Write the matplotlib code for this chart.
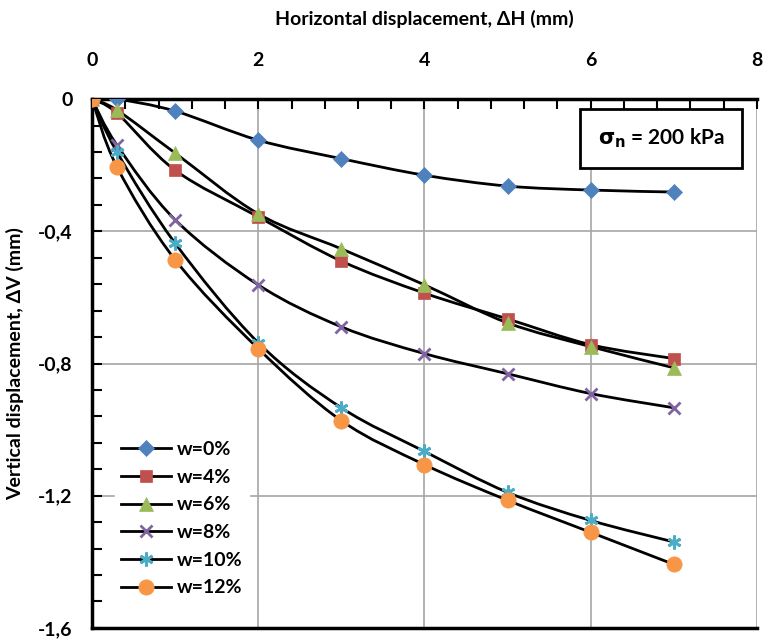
import matplotlib.pyplot as plt
import numpy as np
from matplotlib.path import Path
from matplotlib.patches import PathPatch
from matplotlib.ticker import MultipleLocator, FuncFormatter

plt.rcParams['font.family'] = ['Lato', 'DejaVu Sans']
plt.rcParams['font.weight'] = 'bold'

# horizontal displacement (mm)
dh = [0, 0.3, 1, 2, 3, 4, 5, 6, 7]

# vertical displacement (mm) per water content
dv_w0 = [0, 0.0, -0.036, -0.124, -0.18, -0.23, -0.263, -0.275, -0.281]
dv_w4 = [0, -0.042, -0.215, -0.356, -0.49, -0.587, -0.665, -0.743, -0.785]
dv_w6 = [0, -0.033, -0.163, -0.347, -0.453, -0.562, -0.677, -0.749, -0.813]
dv_w8 = [0, -0.139, -0.365, -0.562, -0.689, -0.77, -0.831, -0.891, -0.934]
dv_w10 = [0, -0.16, -0.436, -0.737, -0.934, -1.066, -1.19, -1.275, -1.34]
dv_w12 = [0, -0.205, -0.486, -0.755, -0.973, -1.106, -1.214, -1.311, -1.408]

labels = ['w=0%', 'w=4%', 'w=6%', 'w=8%', 'w=10%', 'w=12%']
series = [dv_w0, dv_w4, dv_w6, dv_w8, dv_w10, dv_w12]
colors = ['#4F81BD', '#C0504D', '#9BBB59', '#8064A2', '#4BACC6', '#F79646']
markers = ['D', 's', '^', 'x', (6, 2, 0), 'o']
sizes = [8, 9, 10, 9, 10, 11]


def smooth_path(x, y):
    # Excel-like smoothed line drawn as cubic bezier segments
    pts = np.column_stack([x, y]).astype(float)
    verts = [pts[0]]
    codes = [Path.MOVETO]
    n = len(pts)
    for i in range(n - 1):
        p0 = pts[max(i - 1, 0)]
        p1 = pts[i]
        p2 = pts[i + 1]
        p3 = pts[min(i + 2, n - 1)]
        c1 = p1 + (p2 - p0) / 6.0
        c2 = p2 - (p3 - p1) / 6.0
        verts += [c1, c2, p2]
        codes += [Path.CURVE4] * 3
    return Path(verts, codes)


fig = plt.figure(figsize=(7.63, 6.4), dpi=100)
ax = fig.add_axes([0.1206, 0.019, 0.8715, 0.826])

for vals, lab, c, m, s in zip(series, labels, colors, markers, sizes):
    ax.add_patch(PathPatch(smooth_path(dh, vals), facecolor='none',
                           edgecolor='black', lw=2, zorder=3))
    mew = 2 if m in ('x', (6, 2, 0)) else 0.5
    ax.plot(dh, vals, linestyle='none', marker=m, markersize=s,
            color=c, markeredgecolor=c, markeredgewidth=mew, zorder=4)
    ax.plot([], [], color='black', lw=2, marker=m, markersize=s,
            markerfacecolor=c, markeredgecolor=c, markeredgewidth=mew, label=lab)

ax.set_xlim(0, 8)
ax.set_ylim(-1.6, 0)
ax.xaxis.set_major_locator(MultipleLocator(2))
ax.xaxis.set_minor_locator(MultipleLocator(0.4))
ax.yaxis.set_major_locator(MultipleLocator(0.4))
ax.yaxis.set_minor_locator(MultipleLocator(0.08))
ax.xaxis.tick_top()
ax.xaxis.set_label_position('top')
ax.yaxis.set_major_formatter(FuncFormatter(
    lambda v, p: '0' if abs(v) < 1e-9 else ('%g' % round(v, 1)).replace('.', ',')))

ax.tick_params(axis='both', which='both', direction='in', width=1.5,
               labelsize=14, top=True, bottom=False, right=False)
ax.tick_params(axis='both', which='major', length=7)
ax.tick_params(axis='both', which='minor', length=7)
ax.tick_params(axis='x', pad=22)
ax.tick_params(axis='y', pad=14)

ax.grid(True, which='major', color='#A6A6A6', lw=1.2, zorder=0)
for side in ('left', 'top', 'bottom'):
    ax.spines[side].set_linewidth(2.5)
ax.spines['right'].set_visible(False)

ax.set_xlabel('Horizontal displacement, ΔH (mm)', fontsize=14,
              fontweight='bold', labelpad=19)
ax.set_ylabel('Vertical displacement, ΔV (mm)', fontsize=14,
              fontweight='bold', labelpad=10)

ax.text(0.856, 0.926, r'$\mathbf{\sigma_n}$ = 200 kPa', transform=ax.transAxes,
        fontsize=15, fontweight='bold', ha='center', va='center',
        bbox=dict(boxstyle='square,pad=0.85', facecolor='white',
                  edgecolor='black', lw=2), zorder=6)

leg = ax.legend(loc='lower left', bbox_to_anchor=(0.02, 0.03), frameon=True,
                fontsize=14, handlelength=2.6, labelspacing=0.55,
                borderpad=0.3, handletextpad=0.3)
leg.get_frame().set_edgecolor('white')
leg.get_frame().set_alpha(1)
leg.set_zorder(5)

fig.savefig('out.png', dpi=100)
